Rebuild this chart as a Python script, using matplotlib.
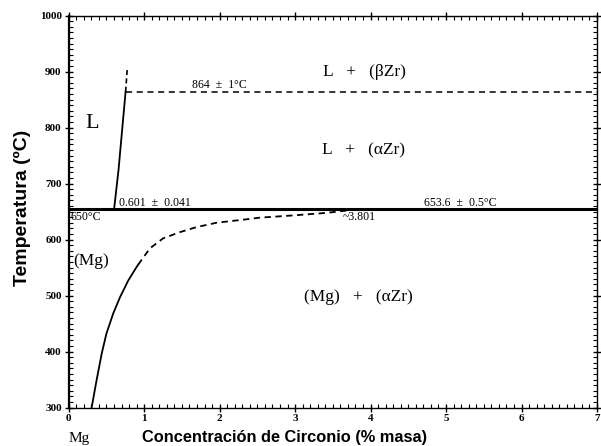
import matplotlib
matplotlib.use("Agg")
import matplotlib.pyplot as plt
from matplotlib.ticker import MultipleLocator

# Mg-Zr phase diagram (Mg-rich side)
eutectic_T = 653.6
peritectic_T = 864.0

# liquidus (solid part, then dashed extension)
liq_x = [0.601, 0.66, 0.754]
liq_T = [653.6, 724.0, 864.0]
liq_ext_x = [0.754, 0.775]
liq_ext_T = [864.0, 903.0]

# solvus of (Mg): solid at low T, dashed at high T
solv_x = [0.304, 0.37, 0.437, 0.50, 0.59, 0.68, 0.79, 0.90, 0.92]
solv_T = [300.0, 349.0, 396.0, 432.0, 468.0, 497.0, 527.0, 551.0, 555.0]
solv_dash_x = [0.92, 1.075, 1.25, 1.47, 1.69, 1.96, 2.35, 2.53, 2.97, 3.41, 3.801]
solv_dash_T = [555.0, 584.0, 602.0, 613.0, 622.0, 630.0, 636.0, 639.0, 643.0, 647.5, 653.6]

x_max = 7
T_min, T_max = 300, 1000

serif = "Liberation Serif"
sans = "Liberation Sans"

fig = plt.figure(figsize=(6.01, 4.46), dpi=100)
ax = fig.add_axes([0.1143, 0.0863, 0.8790, 0.8789])

# lines
ax.plot([0, x_max], [eutectic_T, eutectic_T], color="black", lw=2.2, solid_capstyle="butt")
ax.plot(liq_x, liq_T, color="black", lw=1.3)
ax.plot(liq_ext_x, liq_ext_T, color="black", lw=1.2, ls=(0, (3, 2)))
ax.plot([liq_x[-1], x_max], [peritectic_T, peritectic_T], color="black", lw=1.1, ls=(0, (4, 3)))
ax.plot(solv_x, solv_T, color="black", lw=1.3)
ax.plot(solv_dash_x, solv_dash_T, color="black", lw=1.3, ls=(0, (3.5, 2.5)))

# annotations on lines
small = dict(fontsize=8.5, family=serif, color="black")
ax.text(1.99, peritectic_T + 0.5, "864  \u00b1  1\u00b0C", ha="center", va="bottom", **small)
ax.text(0.66, eutectic_T + 0.5, "0.601  \u00b1  0.041", ha="left", va="bottom", **small)
ax.text(5.19, eutectic_T + 0.5, "653.6  \u00b1  0.5\u00b0C", ha="center", va="bottom", **small)
ax.text(0.02, eutectic_T - 3, "650\u00b0C", ha="left", va="top", **small)
ax.text(3.63, eutectic_T - 3, "~3.801", ha="left", va="top", **small)

# phase labels
big = dict(fontsize=12.5, family=serif, ha="center", va="center")
ax.text(0.31, 808, "L", fontsize=16, family=serif, ha="center", va="center")
ax.text(3.92, 899, "L   +   (\u03b2Zr)", **big)
ax.text(3.90, 759, "L   +   (\u03b1Zr)", **big)
ax.text(0.06, 561, "(Mg)", fontsize=12.5, family=serif, ha="left", va="center")
ax.text(3.84, 497, "(Mg)   +   (\u03b1Zr)", **big)

ax.set_xlim(0, x_max)
ax.set_ylim(T_min, T_max)
ax.xaxis.set_major_locator(MultipleLocator(1))
ax.xaxis.set_minor_locator(MultipleLocator(0.1))
ax.yaxis.set_major_locator(MultipleLocator(100))
ax.yaxis.set_minor_locator(MultipleLocator(10))
ax.tick_params(which="both", top=True, right=True)
ax.tick_params(which="major", direction="inout", length=6, width=1)
ax.tick_params(which="minor", direction="in", length=3, width=0.8)
ax.tick_params(axis="both", labelsize=8, pad=2)
for lab in ax.get_xticklabels() + ax.get_yticklabels():
    lab.set_family(serif)
    lab.set_fontweight("bold")
for sp in ax.spines.values():
    sp.set_linewidth(1.0)
ax.spines["left"].set_linewidth(1.6)

# axis titles placed where they sit in the original
fig.text(0.474, 0.020, "Concentraci\u00f3n de Circonio (% masa)", fontsize=11.8,
         family=sans, fontweight="bold", ha="center", va="center")
fig.text(0.0366, 0.5336, "Temperatura (\u00baC)", fontsize=14, family=sans,
         fontweight="bold", rotation=90, ha="center", va="center")
ax.text(0.14, -0.08, "Mg", transform=ax.get_xaxis_transform(), ha="center", va="center",
        fontsize=11, family=serif)

fig.savefig("out.png", dpi=100)
